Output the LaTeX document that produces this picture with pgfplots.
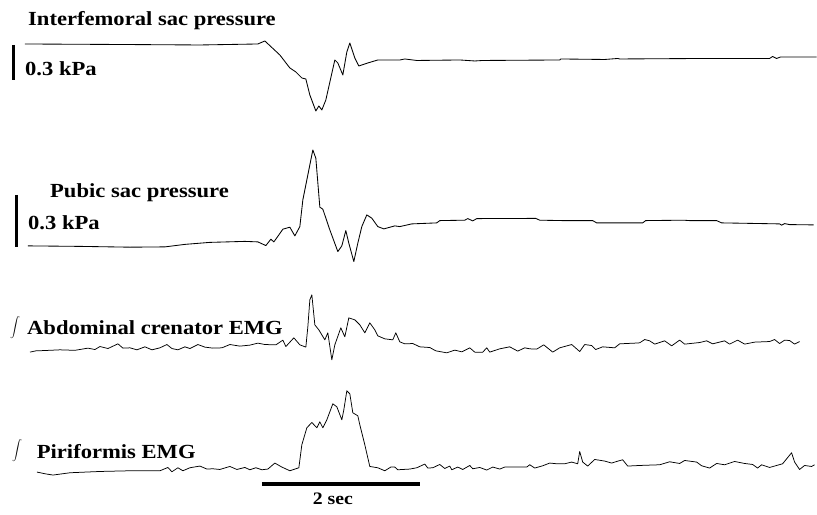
\documentclass[border=0pt]{standalone}
\usepackage{fontspec}
\setmainfont{Liberation Serif}
\newfontfamily\lbl[FakeStretch=1.13]{Liberation Serif}
\usepackage{pgfplots}
\pgfplotsset{compat=1.18}
\tikzset{lab/.style={font=\lbl\bfseries\fontsize{20}{24}\selectfont, inner sep=0pt, anchor=base west},
  integ/.style={inner sep=0pt, anchor=base west, font=\fontsize{13}{16}\selectfont}}

\begin{document}
\begin{tikzpicture}
\begin{axis}[
    scale only axis,
    width=817pt, height=515pt,
    xmin=0, xmax=817, ymin=0, ymax=515,
    y dir=reverse,
    hide axis,
    clip=false,
    cycle list={{black, no markers}},
    every axis plot/.append style={black, line width=0.85pt, line join=round},
]
% frame the page
\addplot[draw=none] coordinates {(0,0) (817,515)};

% interfemoral sac pressure
\addplot coordinates {
 (25,44) (120,44.5) (200,45) (258,44) (265,41) (280,55) (290,68) (296,72) (302,78)
 (306,79) (310,95) (316,111) (319,106) (322,110) (326,100) (335,60) (338,63)
 (343,75) (347,52) (350,43) (355,58) (359,66) (368,63) (378,60) (390,60)
 (400,60) (405,59) (417,60.5) (460,60) (475,61) (483,60.5) (560,60) (561,59)
 (605,59.5) (618,58.5) (620,59) (703,58.5) (770,58.5) (773,56.5) (777,58.5)
 (781,57) (817,57)
};
% pubic sac pressure
\addplot coordinates {
 (28,246) (80,246.5) (130,247.3) (165,247) (185,244.5) (210,242.5) (245,241.5)
 (258,242) (266,245.7) (271,239.3) (274,242) (279,235) (283,229.3) (290,227.3)
 (295,236) (300,226.7) (303,200) (307,180) (313,150) (316,158.3) (320,207.3)
 (323,209.3) (330,230) (338,251.7) (342,246) (346,230.7) (349,243.3) (354,261.7)
 (358,243.3) (362,226.7) (367,215) (372,218.3) (378,226.7) (384,229) (395,226)
 (400,226.7) (412,224) (437,223) (440,220.7) (465,220.3) (468,218.7) (473,221)
 (477,218.7) (536,218.5) (540,220.3) (563,220.7) (593,220.7) (597,223) (643,223)
 (646,220.7) (684,220.3) (690,220.7) (717,220.7) (722,223) (740,223.3) (780,224)
 (782,225.3) (785,223.7) (790,224.7) (814,225)
};
% abdominal crenator EMG
\addplot[line width=0.75pt] coordinates {
 (30,352.3) (36,351) (45,350.7) (60,350) (75,350.5) (88,348.3) (95,349.7)
 (100,346.7) (108,348.7) (118,344) (123,348.3) (130,348) (137,350) (145,347)
 (152,350) (160,348) (167,344.7) (172,348.7) (178,350) (185,347) (190,348.7)
 (198,344.7) (205,347.3) (213,348.3) (222,348) (230,344.7) (240,346.3)
 (250,345.3) (258,343.3) (265,344.7) (276,345) (283,340.3) (286,346.7)
 (294,338) (300,345) (306,347.3) (308,327) (310,300) (312,295) (313,305)
 (315,325) (319,330) (325,340) (328,333) (332,360) (335,345) (341,328)
 (345,337) (349,318) (355,320) (360,325) (365,333) (370,323) (375,330)
 (378,336) (385,339) (393,340) (396,333) (400,342) (405,344) (413,343.7)
 (420,347) (430,347.7) (436,351) (447,353) (455,350.3) (462,352) (470,348)
 (475,352.3) (483,352.3) (487,348) (490,352.3) (500,349) (510,347) (518,351.3)
 (525,348) (530,349) (537,349.3) (544,345) (553,352.3) (560,348) (572,344.7)
 (580,351.7) (585,344.7) (592,345.7) (596,349.7) (603,347) (615,348) (620,344)
 (635,343.3) (640,343) (645,339.7) (650,341) (655,344.3) (665,341) (672,346)
 (680,340.3) (685,344.3) (700,342.7) (707,341) (713,344) (725,341) (730,344.3)
 (738,340.3) (745,344.3) (755,342.3) (770,341.7) (775,339.7) (780,343.7)
 (785,340.3) (790,340.7) (795,344.3) (800,341.7)
};
% piriformis EMG
\addplot[line width=0.75pt] coordinates {
 (37,472.3) (45,474) (53,475.3) (70,473) (100,471.7) (130,471) (160,471)
 (168,467.7) (172,472) (178,468) (183,471) (190,468) (200,466.3) (207,469.3)
 (213,469) (220,469.7) (230,466.7) (237,469.7) (245,467.7) (250,470) (256,468)
 (262,470) (268,469.3) (275,463.3) (282,467.3) (290,471) (299,468) (302,445)
 (307,428) (312,422.7) (317,428) (320,422) (323,428) (327,420) (333,404)
 (337,407) (342,420) (344,410) (347,391) (350,394) (353,413) (358,416)
 (360,425) (365,445) (370,466.7) (378,468) (385,471) (391,467.3) (395,467.3)
 (398,470) (410,469.3) (417,468) (425,464.3) (428,468.3) (433,468) (440,464.7)
 (445,468.7) (450,466.3) (452,470) (458,467.3) (463,469.7) (470,465.7)
 (473,469) (480,467.7) (487,470.3) (493,467.3) (500,469.3) (505,467.3)
 (527,467.3) (530,465) (535,468.3) (543,466) (550,463.3) (557,464) (565,464)
 (572,462.3) (578,464) (580,451.7) (583,462.3) (588,466.3) (595,459.7)
 (605,461.3) (612,463.3) (617,461.7) (623,460) (628,466.3) (640,465.7)
 (660,465) (670,462) (680,463.7) (685,460.7) (697,462.3) (702,466) (710,468.3)
 (717,463.7) (725,465) (735,461.7) (745,463.7) (753,464.7) (758,468.3)
 (762,465) (770,467.7) (777,465.7) (783,464) (792,453) (795,462.3) (800,469.7)
 (805,465.7) (812,466.7) (815,465)
};

% scale bars
\addplot[line width=3.5pt, line cap=butt] coordinates {(13.3,45) (13.3,80)};
\addplot[line width=3.5pt, line cap=butt] coordinates {(16.5,195) (16.5,246.7)};
\addplot[line width=3.5pt, line cap=butt] coordinates {(262,484) (420,484)};

% labels
\node[lab] at (axis cs:28,26) {Interfemoral sac pressure};
\node[lab] at (axis cs:25,76) {0.3 kPa};
\node[lab] at (axis cs:50,197.7) {Pubic sac pressure};
\node[lab] at (axis cs:28,230) {0.3 kPa};
\node[integ] at (axis cs:10,331) {$\displaystyle\int$};
\node[lab] at (axis cs:27,335) {Abdominal crenator EMG};
\node[integ] at (axis cs:12,454) {$\displaystyle\int$};
\node[lab] at (axis cs:36.7,458.3) {Piriformis EMG};
\node[inner sep=0pt, anchor=base, font=\lbl\bfseries\fontsize{17.5}{20}\selectfont] at (axis cs:333,505) {2 sec};
\end{axis}
\end{tikzpicture}
\end{document}
